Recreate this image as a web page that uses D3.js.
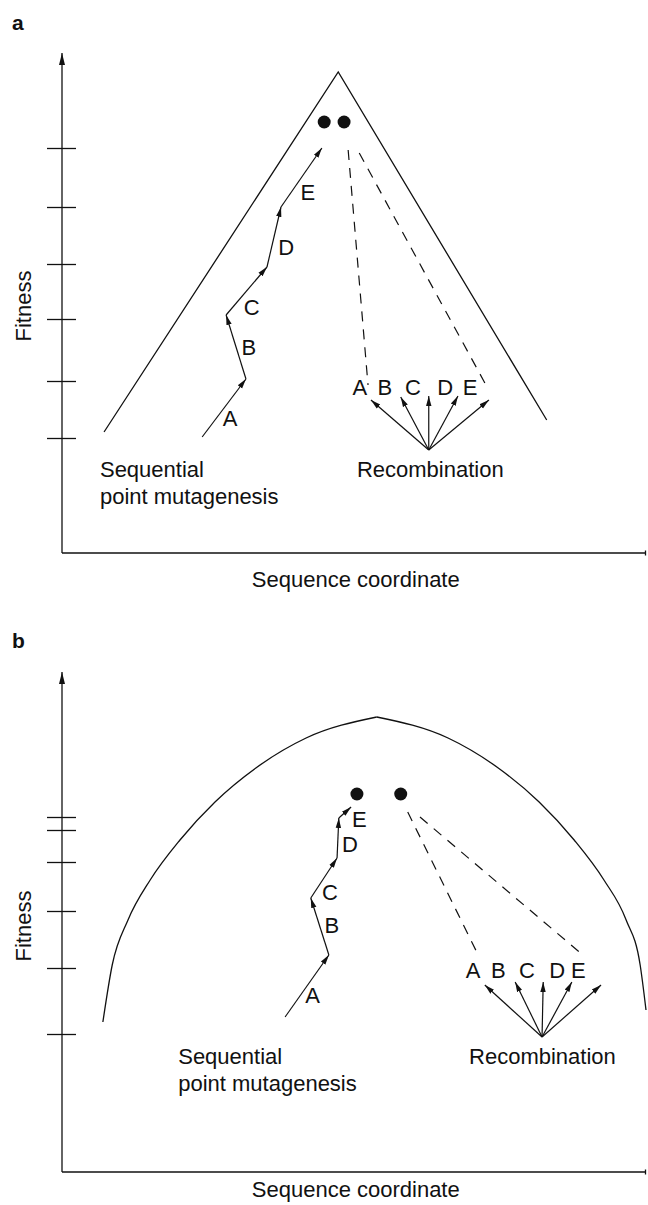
<!DOCTYPE html>
<html>
<head>
<meta charset="utf-8">
<script src="https://cdn.jsdelivr.net/npm/d3@7"></script>
<style>
  body { margin: 0; background: #fff; }
  svg text { font-family: "Liberation Sans", Arial, Helvetica, sans-serif; fill: #111; }
</style>
</head>
<body>
<div id="chart"></div>
<script>
// textos
var panelNames = ["a", "b"];
var xTitle = "Sequence coordinate";
var yTitle = "Fitness";
var stepNames = ["A", "B", "C", "D", "E"];
var walkCaption = ["Sequential", "point mutagenesis"];
var recCaption = "Recombination";

// panel a  (coordenada 0-100, fitness 0-100)
var ridgeA = [[7.2, 24.2], [47.3, 96.2], [83.0, 26.6]];
var ticksA = [81, 69.2, 57.8, 46.8, 34.4, 23];
var walkA = [[24.0, 23.2], [31.5, 34.8], [28.1, 47.6], [35.1, 57.2], [37.5, 69.2], [44.5, 81]];
var walkLabelsA = [[28.8, 25.4], [32.0, 39.6], [32.5, 47.6], [38.4, 59.6], [42.1, 70.6]];
var dotsA = [[44.9, 86.2], [48.3, 86.2]];
var dashA = [[[49.0, 80.6], [52.4, 33.6]], [[50.9, 80], [72.6, 33.6]]];
var fanOriginA = [62.8, 20.6];
var fanTipsA = [[52.9, 30.6], [58.0, 31.2], [62.8, 31.4], [67.8, 31.4], [73.1, 30.6]];
var fanLabelsA = [[51.0, 31.6], [55.3, 31.6], [60.1, 31.6], [65.6, 31.6], [69.9, 31.6]];

// panel b
var ridgeLeftB = [[7.0, 30], [8.6, 41.4], [11.3, 50.4], [15.1, 58.4], [20.2, 66.4], [26.2, 74], [33.2, 80.8], [41.8, 86.8], [53.9, 91]];
var ridgeRightB = [[53.9, 91], [66.1, 86.8], [74.7, 80.8], [81.7, 74], [87.7, 66.4], [92.8, 58.4], [96.6, 50.4], [99.0, 41.4], [100, 32.4]];
var ticksB = [71, 68.4, 62, 52.2, 40.8, 27.6];
var walkB = [[38.2, 31], [45.7, 43.4], [42.6, 54.8], [47.1, 62.8], [47.4, 70.8], [49.5, 73]];
var walkLabelsB = [[42.9, 33.8], [46.2, 47.8], [45.9, 54.4], [49.3, 64], [50.9, 69]];
var dotsB = [[50.5, 75.6], [58.0, 75.6]];
var dashB = [[[59.2, 72], [71.1, 43.8]], [[61.3, 71], [89.2, 43.4]]];
var fanOriginB = [82.2, 27];
var fanTipsB = [[72.4, 37.4], [77.6, 38], [82.4, 38], [87.3, 38], [92.3, 37.4]];
var fanLabelsB = [[70.4, 38.8], [74.7, 38.8], [79.6, 38.8], [84.8, 38.8], [88.4, 38.8]];

var width = 648, height = 1205;
var fontSize = "22px";

var svg = d3.select("#chart")
  .append("svg")
    .attr("width", width)
    .attr("height", height);

// puntas de flecha
var defs = svg.append("defs");
defs.append("marker")
    .attr("id", "head")
    .attr("viewBox", "0 -4 10 8")
    .attr("refX", 10).attr("refY", 0)
    .attr("markerUnits", "userSpaceOnUse")
    .attr("markerWidth", 10).attr("markerHeight", 8)
    .attr("orient", "auto")
  .append("path")
    .attr("d", "M0,-2.7L10,0L0,2.7Z")
    .attr("fill", "#111");
defs.append("marker")
    .attr("id", "axishead")
    .attr("viewBox", "0 -4 12 8")
    .attr("refX", 12).attr("refY", 0)
    .attr("markerUnits", "userSpaceOnUse")
    .attr("markerWidth", 12).attr("markerHeight", 8)
    .attr("orient", "auto")
  .append("path")
    .attr("d", "M0,-3L12,0L0,3Z")
    .attr("fill", "#111");

var x = d3.scaleLinear().domain([0, 100]).range([62, 646]);

var panels = [
  { name: panelNames[0], yRange: [553, 53], labelY: 30, titleY: 587, fitY: 306,
    ticks: ticksA, walk: walkA, walkLabels: walkLabelsA, dots: dotsA, dash: dashA,
    fanOrigin: fanOriginA, fanTips: fanTipsA, fanLabels: fanLabelsA,
    ridges: [ridgeA], curve: d3.curveLinear,
    capWalk: [6.5, 15.2, 9.8], capRec: [50.5, 15.2] },
  { name: panelNames[1], yRange: [1172, 672], labelY: 648, titleY: 1197, fitY: 926,
    ticks: ticksB, walk: walkB, walkLabels: walkLabelsB, dots: dotsB, dash: dashB,
    fanOrigin: fanOriginB, fanTips: fanTipsB, fanLabels: fanLabelsB,
    ridges: [ridgeLeftB, ridgeRightB], curve: d3.curveMonotoneX,
    capWalk: [19.9, 21.6, 16.2], capRec: [69.7, 21.6] }
];

panels.forEach(function(p) {
  var y = d3.scaleLinear().domain([0, 100]).range(p.yRange);
  var g = svg.append("g");

  // letra del panel
  g.append("text")
      .attr("x", 12).attr("y", p.labelY)
      .style("font-size", "21px").style("font-weight", "bold")
      .text(p.name);

  // ejes
  g.append("line")
      .attr("x1", x(0)).attr("y1", y(0))
      .attr("x2", x(0)).attr("y2", y(100))
      .attr("stroke", "#111").attr("stroke-width", 1.3)
      .attr("marker-end", "url(#axishead)");
  g.append("line")
      .attr("x1", x(0)).attr("y1", y(0))
      .attr("x2", x(100)).attr("y2", y(0))
      .attr("stroke", "#111").attr("stroke-width", 1.3);
  g.append("line")
      .attr("x1", x(100) - 0.5).attr("y1", y(0) - 2.5)
      .attr("x2", x(100) - 0.5).attr("y2", y(0) + 2.5)
      .attr("stroke", "#111").attr("stroke-width", 1.3);

  var ticks = g.append("g")
      .attr("transform", "translate(" + x(0) + ",0)")
      .call(d3.axisLeft(y).tickValues(p.ticks).tickSize(15).tickFormat(""));
  ticks.select(".domain").remove();
  ticks.selectAll(".tick line")
      .attr("x1", 14)
      .attr("stroke", "#111").attr("stroke-width", 1.3);

  // titulos de ejes
  g.append("text")
      .attr("x", x(50.3)).attr("y", p.titleY)
      .style("text-anchor", "middle").style("font-size", fontSize)
      .text(xTitle);
  g.append("text")
      .attr("transform", "translate(31," + p.fitY + ") rotate(-90)")
      .style("text-anchor", "middle").style("font-size", fontSize)
      .text(yTitle);

  // paisaje de fitness
  var ridgeLine = d3.line()
      .x(function(d) { return x(d[0]); })
      .y(function(d) { return y(d[1]); })
      .curve(p.curve);
  p.ridges.forEach(function(r) {
    g.append("path")
        .datum(r)
        .attr("fill", "none")
        .attr("stroke", "#111").attr("stroke-width", 1.3)
        .attr("d", ridgeLine);
  });

  // camino de mutagenesis secuencial
  var segs = d3.pairs(p.walk);
  g.selectAll(".seg")
    .data(segs)
    .enter().append("line")
      .attr("x1", function(d) { return x(d[0][0]); })
      .attr("y1", function(d) { return y(d[0][1]); })
      .attr("x2", function(d) { return x(d[1][0]); })
      .attr("y2", function(d) { return y(d[1][1]); })
      .attr("stroke", "#111").attr("stroke-width", 1.2)
      .attr("marker-end", "url(#head)");
  g.selectAll(".wlab")
    .data(p.walkLabels)
    .enter().append("text")
      .attr("x", function(d) { return x(d[0]); })
      .attr("y", function(d) { return y(d[1]); })
      .style("text-anchor", "middle").style("font-size", fontSize)
      .text(function(d, i) { return stepNames[i]; });

  // puntos optimos
  g.selectAll(".dot")
    .data(p.dots)
    .enter().append("circle")
      .attr("cx", function(d) { return x(d[0]); })
      .attr("cy", function(d) { return y(d[1]); })
      .attr("r", 6.5)
      .attr("fill", "#111");

  // lineas discontinuas
  g.selectAll(".dash")
    .data(p.dash)
    .enter().append("line")
      .attr("x1", function(d) { return x(d[0][0]); })
      .attr("y1", function(d) { return y(d[0][1]); })
      .attr("x2", function(d) { return x(d[1][0]); })
      .attr("y2", function(d) { return y(d[1][1]); })
      .attr("stroke", "#111").attr("stroke-width", 1.2)
      .attr("stroke-dasharray", "10,8");

  // abanico de recombinacion
  g.selectAll(".fan")
    .data(p.fanTips)
    .enter().append("line")
      .attr("x1", x(p.fanOrigin[0]))
      .attr("y1", y(p.fanOrigin[1]))
      .attr("x2", function(d) { return x(d[0]); })
      .attr("y2", function(d) { return y(d[1]); })
      .attr("stroke", "#111").attr("stroke-width", 1.2)
      .attr("marker-end", "url(#head)");
  g.selectAll(".flab")
    .data(p.fanLabels)
    .enter().append("text")
      .attr("x", function(d) { return x(d[0]); })
      .attr("y", function(d) { return y(d[1]); })
      .style("text-anchor", "middle").style("font-size", fontSize)
      .text(function(d, i) { return stepNames[i]; });

  // leyendas
  g.append("text")
      .attr("x", x(p.capWalk[0])).attr("y", y(p.capWalk[1]))
      .style("font-size", fontSize)
      .text(walkCaption[0]);
  g.append("text")
      .attr("x", x(p.capWalk[0])).attr("y", y(p.capWalk[2]))
      .style("font-size", fontSize)
      .text(walkCaption[1]);
  g.append("text")
      .attr("x", x(p.capRec[0])).attr("y", y(p.capRec[1]))
      .style("font-size", fontSize)
      .text(recCaption);
});
</script>
</body>
</html>
